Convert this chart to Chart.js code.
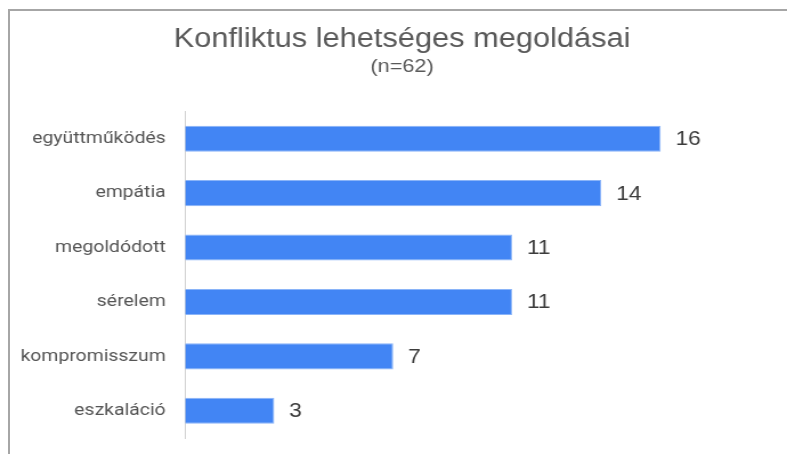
<!DOCTYPE html>
<html>
<head>
<meta charset="utf-8">
<script src="https://cdn.jsdelivr.net/npm/chart.js@4/dist/chart.umd.min.js"></script>
<style>
  html, body { margin: 0; padding: 0; background: #fff; overflow: hidden; }
  #wrap { position: relative; width: 787px; height: 454px; overflow: hidden; }
  #scaler { position: absolute; left: 0; top: 0; width: 690px; height: 454px;
            transform: scaleX(1.1406); transform-origin: 0 0; }
  #scaler canvas { display: block; }
  #frame { position: absolute; left: 8px; top: 9px; right: -4px; bottom: -4px;
           border-top: 2px solid #a6a6a6; border-left: 2px solid #a6a6a6; pointer-events: none; }
</style>
</head>
<body>
<div id="wrap">
  <div id="scaler"><canvas id="c" width="690" height="454"></canvas></div>
  <div id="frame"></div>
</div>
<script>
const categories = ['együttműködés', 'empátia', 'megoldódott', 'sérelem', 'kompromisszum', 'eszkaláció'];
const counts = [16, 14, 11, 11, 7, 3];
const titleText = 'Konfliktus lehetséges megoldásai';
const subtitleText = '(n=62)';

const valueLabels = {
  id: 'valueLabels',
  afterDatasetsDraw(chart) {
    const ctx = chart.ctx;
    const meta = chart.getDatasetMeta(0);
    ctx.save();
    ctx.font = '20px "Liberation Sans", Arial, sans-serif';
    ctx.fillStyle = '#3c3c3c';
    ctx.textAlign = 'left';
    ctx.textBaseline = 'middle';
    meta.data.forEach((bar, i) => {
      ctx.fillText(String(chart.data.datasets[0].data[i]), bar.x + 13, bar.y + 1);
    });
    ctx.restore();
  }
};

new Chart(document.getElementById('c'), {
  type: 'bar',
  data: {
    labels: categories,
    datasets: [{
      data: counts,
      backgroundColor: '#4285f4',
      borderColor: '#8ab4f8',
      borderWidth: 1,
      barPercentage: 0.48,
      categoryPercentage: 1.0
    }]
  },
  options: {
    indexAxis: 'y',
    responsive: false,
    animation: false,
    layout: { padding: { left: 15, right: 0, top: 0, bottom: 16 } },
    plugins: {
      legend: { display: false },
      tooltip: { enabled: false },
      title: {
        display: true,
        text: titleText,
        color: '#595959',
        font: { family: '"Liberation Sans", Arial, sans-serif', size: 27, weight: 'normal', lineHeight: 1.1 },
        padding: { top: 25, bottom: 1 }
      },
      subtitle: {
        display: true,
        text: subtitleText,
        color: '#595959',
        font: { family: '"Liberation Sans", Arial, sans-serif', size: 19, weight: 'normal', lineHeight: 1.2 },
        padding: { top: 0, bottom: 33 }
      }
    },
    scales: {
      x: {
        display: false,
        min: 0,
        max: 20.25
      },
      y: {
        grid: { display: false, drawTicks: false },
        border: { display: true, color: '#d0d0d0', width: 1 },
        ticks: {
          color: '#555555',
          padding: 17,
          font: { family: 'Roboto, "Liberation Sans", sans-serif', size: 17 }
        },
        afterFit(scale) {
          scale.width = 147.3;
          scale.paddingTop = 0;
          scale.paddingBottom = 0;
        }
      }
    }
  },
  plugins: [valueLabels]
});
</script>
</body>
</html>
